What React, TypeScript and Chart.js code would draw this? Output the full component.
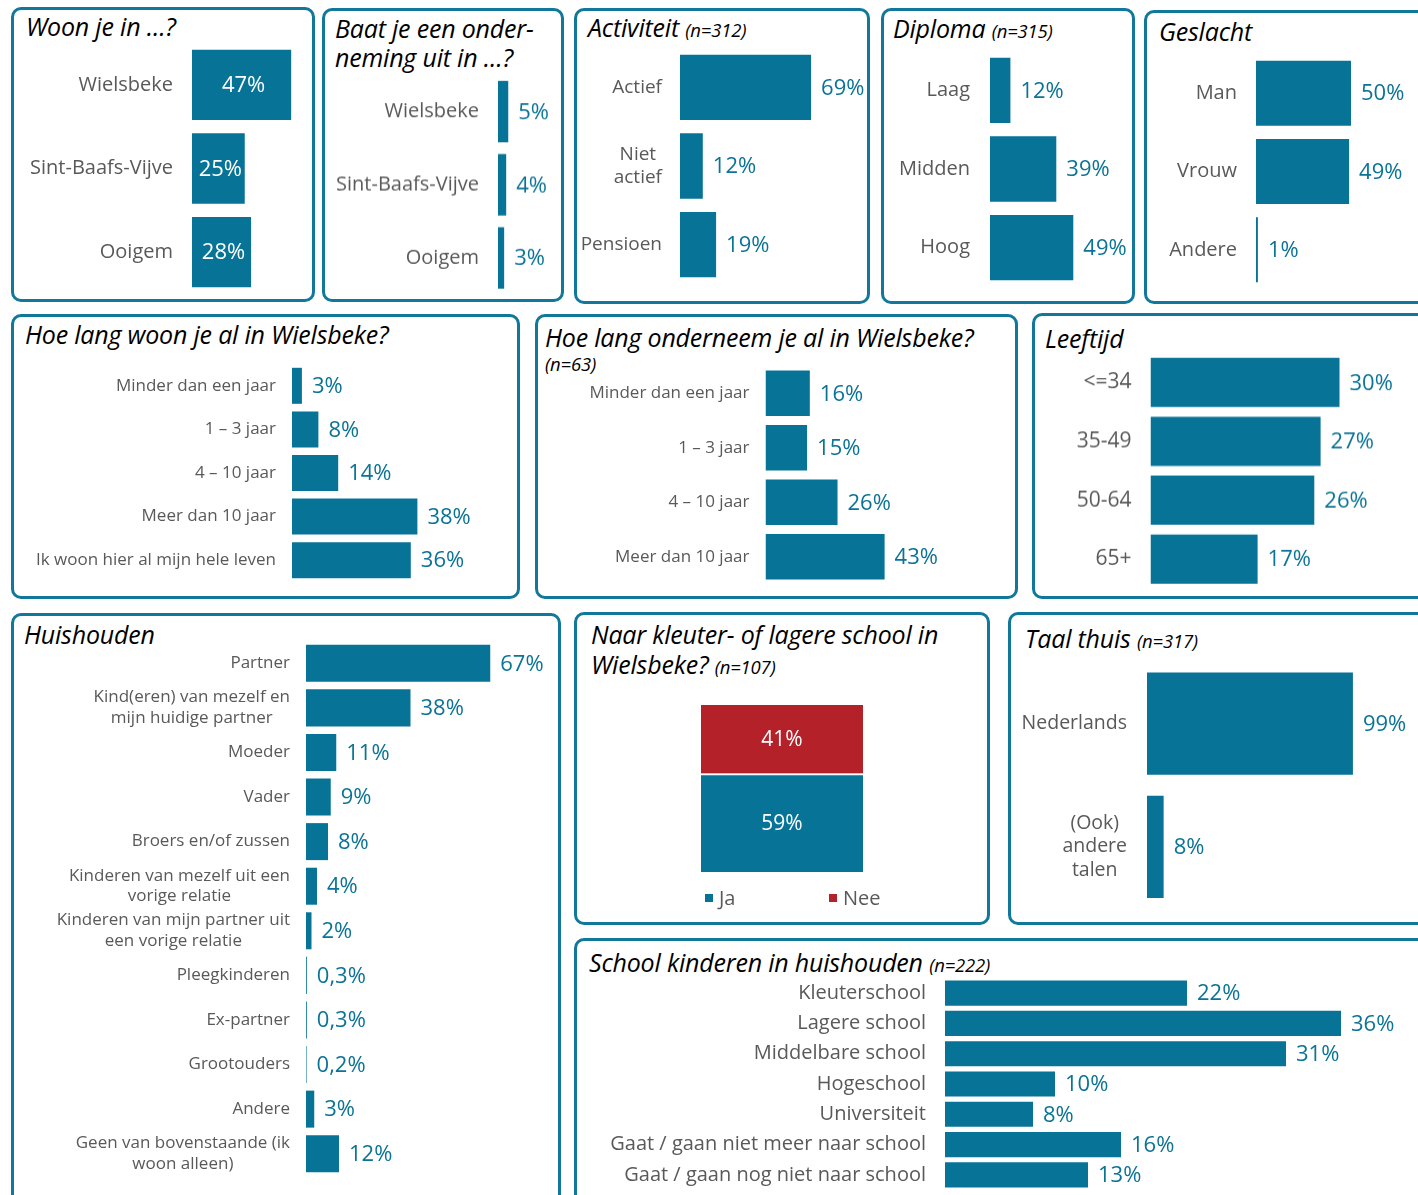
import React, { useEffect, useRef } from 'react';
import { Chart, registerables } from 'chart.js';
Chart.register(...registerables);

const FONT = '"Open Sans", Lato, sans-serif';
const BAR = '#077396';
const RED = '#b52129';
const LABEL = '#595959';
const VALUE = '#0a7396';
const BORDER = '#11789b';

// ---------- data ----------
const woonLabels = ['Wielsbeke', 'Sint-Baafs-Vijve', 'Ooigem'];
const woonValues = [47, 25, 28];
const baatLabels = ['Wielsbeke', 'Sint-Baafs-Vijve', 'Ooigem'];
const baatValues = [5, 4, 3];
const activiteitLabels = ['Actief', ['Niet', 'actief'], 'Pensioen'];
const activiteitValues = [69, 12, 19];
const diplomaLabels = ['Laag', 'Midden', 'Hoog'];
const diplomaValues = [12, 39, 49];
const geslachtLabels = ['Man', 'Vrouw', 'Andere'];
const geslachtValues = [50, 49, 1];
const woonduurLabels = ['Minder dan een jaar', '1 – 3 jaar', '4 – 10 jaar', 'Meer dan 10 jaar', 'Ik woon hier al mijn hele leven'];
const woonduurValues = [3, 8, 14, 38, 36];
const onderneemLabels = ['Minder dan een jaar', '1 – 3 jaar', '4 – 10 jaar', 'Meer dan 10 jaar'];
const onderneemValues = [16, 15, 26, 43];
const leeftijdLabels = ['<=34', '35-49', '50-64', '65+'];
const leeftijdValues = [30, 27, 26, 17];
const huishoudenLabels = [
  'Partner',
  ['Kind(eren) van mezelf en', 'mijn huidige partner'],
  'Moeder',
  'Vader',
  'Broers en/of zussen',
  ['Kinderen van mezelf uit een', 'vorige relatie'],
  ['Kinderen van mijn partner uit', 'een vorige relatie'],
  'Pleegkinderen',
  'Ex-partner',
  'Grootouders',
  'Andere',
  ['Geen van bovenstaande (ik', 'woon alleen)'],
];
const huishoudenValues = [67, 38, 11, 9, 8, 4, 2, 0.3, 0.3, 0.2, 3, 12];
const kleuterSeries = ['Ja', 'Nee'];
const kleuterJa = [59];
const kleuterNee = [41];
const taalLabels = ['Nederlands', ['(Ook)', 'andere', 'talen']];
const taalValues = [99, 8];
const schoolLabels = ['Kleuterschool', 'Lagere school', 'Middelbare school', 'Hogeschool', 'Universiteit', 'Gaat / gaan niet meer naar school', 'Gaat / gaan nog niet naar school'];
const schoolValues = [22, 36, 31, 10, 8, 16, 13];

const fmt = (v: number) => String(v).replace('.', ',') + '%';

type HBarProps = {
  left: number; right: number; top: number; bottom: number;
  barX0: number; pxPer: number; catPct: number;
  labels: (string | string[])[]; values: number[];
  labelSize: number; valueSize: number; gap: number; inside?: boolean;
};

function HBar(p: HBarProps) {
  const ref = useRef<HTMLCanvasElement>(null);
  useEffect(() => {
    const axisW = p.barX0 - p.left;
    const xMax = (p.right - p.barX0) / p.pxPer;
    const labelPlugin = {
      id: 'catLabels',
      afterDraw(chart: any) {
        const ctx = chart.ctx;
        const ys = chart.scales.y;
        ctx.save();
        ctx.font = `${p.labelSize}px ${FONT}`;
        ctx.fillStyle = LABEL;
        ctx.textBaseline = 'middle';
        ctx.textAlign = 'center';
        const right = chart.chartArea.left - p.gap;
        const lh = p.labelSize * 1.22;
        chart.data.labels.forEach((lab: any, i: number) => {
          const lines: string[] = Array.isArray(lab) ? lab : [lab];
          const w = Math.max(...lines.map((l) => ctx.measureText(l).width));
          const cx = right - w / 2;
          const cy = ys.getPixelForTick(i);
          lines.forEach((l, j) => ctx.fillText(l, cx, cy + (j - (lines.length - 1) / 2) * lh));
        });
        ctx.restore();
      },
    };
    const valuePlugin = {
      id: 'values',
      afterDatasetsDraw(chart: any) {
        const ctx = chart.ctx;
        const meta = chart.getDatasetMeta(0);
        ctx.save();
        ctx.font = `${p.valueSize}px ${FONT}`;
        ctx.textBaseline = 'middle';
        meta.data.forEach((bar: any, i: number) => {
          const txt = fmt(chart.data.datasets[0].data[i]);
          if (p.inside) {
            ctx.fillStyle = '#ffffff';
            ctx.textAlign = 'center';
            ctx.fillText(txt, (bar.x + bar.base) / 2 + 2, bar.y + 1);
          } else {
            ctx.fillStyle = VALUE;
            ctx.textAlign = 'left';
            ctx.fillText(txt, bar.x + 10, bar.y + 1);
          }
        });
        ctx.restore();
      },
    };
    const chart = new Chart(ref.current as HTMLCanvasElement, {
      type: 'bar',
      data: {
        labels: p.labels as any,
        datasets: [{ data: p.values, backgroundColor: BAR, borderWidth: 0, barPercentage: 1, categoryPercentage: p.catPct }],
      },
      options: {
        indexAxis: 'y',
        animation: false,
        responsive: true,
        maintainAspectRatio: false,
        events: [],
        layout: { padding: 0 },
        plugins: { legend: { display: false }, tooltip: { enabled: false } },
        scales: {
          x: { display: false, min: 0, max: xMax },
          y: {
            display: true,
            grid: { display: false, drawTicks: false },
            border: { display: false },
            ticks: { display: false },
            afterFit: (s: any) => { s.width = axisW; s.paddingTop = 0; s.paddingBottom = 0; },
          },
        },
      } as any,
      plugins: [labelPlugin, valuePlugin],
    });
    return () => chart.destroy();
  }, []);
  return (
    <div style={{ position: 'absolute', left: p.left, top: p.top, width: p.right - p.left, height: p.bottom - p.top }}>
      <canvas ref={ref} />
    </div>
  );
}

function StackedJaNee() {
  const ref = useRef<HTMLCanvasElement>(null);
  useEffect(() => {
    const inner = {
      id: 'inner',
      afterDatasetsDraw(chart: any) {
        const ctx = chart.ctx;
        ctx.save();
        ctx.font = `21px ${FONT}`;
        ctx.fillStyle = '#ffffff';
        ctx.textAlign = 'center';
        ctx.textBaseline = 'middle';
        chart.data.datasets.forEach((ds: any, di: number) => {
          chart.getDatasetMeta(di).data.forEach((bar: any, i: number) => {
            ctx.fillText(fmt(ds.data[i]), bar.x, (bar.y + bar.base) / 2 + 1);
          });
        });
        ctx.restore();
      },
    };
    const legendOffsets = [4, 128];
    const legend = {
      id: 'legendCustom',
      afterDraw(chart: any) {
        const ctx = chart.ctx;
        const a = chart.chartArea;
        ctx.save();
        ctx.font = `20px ${FONT}`;
        ctx.textBaseline = 'middle';
        ctx.textAlign = 'left';
        chart.data.datasets.forEach((ds: any, i: number) => {
          const x = a.left + legendOffsets[i];
          const y = a.bottom + 26;
          ctx.fillStyle = ds.backgroundColor;
          ctx.fillRect(x, y - 4, 8, 8);
          ctx.fillStyle = LABEL;
          ctx.fillText(ds.label, x + 14, y + 1);
        });
        ctx.restore();
      },
    };
    const chart = new Chart(ref.current as HTMLCanvasElement, {
      type: 'bar',
      data: {
        labels: [''],
        datasets: [
          { label: kleuterSeries[0], data: kleuterJa, backgroundColor: BAR, borderColor: '#ffffff', borderWidth: { top: 2, bottom: 0, left: 0, right: 0 }, borderSkipped: false, barPercentage: 1, categoryPercentage: 1 },
          { label: kleuterSeries[1], data: kleuterNee, backgroundColor: RED, borderWidth: 0, barPercentage: 1, categoryPercentage: 1 },
        ],
      },
      options: {
        animation: false,
        responsive: true,
        maintainAspectRatio: false,
        events: [],
        layout: { padding: { left: 101, right: 122, top: 5, bottom: 43 } },
        plugins: { legend: { display: false }, tooltip: { enabled: false } },
        scales: {
          x: { display: false, stacked: true },
          y: { display: false, stacked: true, min: 0, max: 100 },
        },
      } as any,
      plugins: [inner, legend],
    });
    return () => chart.destroy();
  }, []);
  return (
    <div style={{ position: 'absolute', left: 600, top: 700, width: 385, height: 215 }}>
      <canvas ref={ref} />
    </div>
  );
}

function Panel({ l, t, r, b }: { l: number; t: number; r: number; b: number }) {
  return (
    <div
      style={{
        position: 'absolute', left: l, top: t, width: r - l, height: b - t,
        border: `3px solid ${BORDER}`, borderRadius: 10, boxSizing: 'border-box', background: '#fff',
      }}
    />
  );
}

function Title({ x, y, children, lh = 29 }: { x: number; y: number; children: any; lh?: number }) {
  return (
    <div
      style={{
        position: 'absolute', left: x, top: y, fontFamily: FONT, fontStyle: 'italic', fontSize: 25,
        lineHeight: `${lh}px`, color: '#000', whiteSpace: 'nowrap', letterSpacing: '-0.2px',
      }}
    >
      {children}
    </div>
  );
}

const Small = ({ children }: { children: any }) => <span style={{ fontSize: 18.5 }}>{children}</span>;

export default function App() {
  useEffect(() => {
    document.body.style.margin = '0';
  }, []);
  return (
    <div style={{ position: 'absolute', left: 0, top: 0, width: 1418, height: 1195, overflow: 'hidden', background: '#fff' }}>
      <Panel l={11} t={7} r={315} b={302} />
      <Panel l={322} t={8} r={564} b={302} />
      <Panel l={574} t={8} r={870} b={304} />
      <Panel l={881} t={8} r={1135} b={304} />
      <Panel l={1144} t={10} r={1428} b={304} />
      <Panel l={11} t={314} r={520} b={599} />
      <Panel l={535} t={314} r={1018} b={599} />
      <Panel l={1032} t={313} r={1428} b={599} />
      <Panel l={11} t={613} r={561} b={1210} />
      <Panel l={574} t={612} r={990} b={925} />
      <Panel l={1008} t={612} r={1428} b={925} />
      <Panel l={574} t={938} r={1428} b={1210} />

      <Title x={26} y={12}>Woon je in …?</Title>
      <Title x={335} y={14}>Baat je een onder-<br />neming uit in …?</Title>
      <Title x={588} y={13}>Activiteit <Small>(n=312)</Small></Title>
      <Title x={893} y={14}>Diploma <Small>(n=315)</Small></Title>
      <Title x={1159} y={17}>Geslacht</Title>
      <Title x={25} y={320}>Hoe lang woon je al in Wielsbeke?</Title>
      <Title x={545} y={323}>Hoe lang onderneem je al in Wielsbeke?</Title>
      <Title x={545} y={349} lh={24}><Small>(n=63)</Small></Title>
      <Title x={1045} y={324}>Leeftijd</Title>
      <Title x={24} y={620}>Huishouden</Title>
      <Title x={591} y={619} lh={30}>Naar kleuter- of lagere school in<br />Wielsbeke? <Small>(n=107)</Small></Title>
      <Title x={1025} y={624}>Taal thuis <Small>(n=317)</Small></Title>
      <Title x={589} y={948}>School kinderen in huishouden <Small>(n=222)</Small></Title>

      <HBar left={16} right={312} top={43} bottom={294} barX0={192} pxPer={2.11} catPct={0.84}
        labels={woonLabels} values={woonValues} labelSize={20} valueSize={22} gap={19} inside />
      <HBar left={327} right={561} top={75} bottom={293.5} barX0={498} pxPer={2.05} catPct={0.84}
        labels={baatLabels} values={baatValues} labelSize={20} valueSize={22} gap={19} />
      <HBar left={577} right={868} top={48} bottom={284} barX0={680} pxPer={1.9} catPct={0.83}
        labels={activiteitLabels} values={activiteitValues} labelSize={19} valueSize={22} gap={18} />
      <HBar left={884} right={1133} top={51} bottom={287} barX0={990} pxPer={1.7} catPct={0.83}
        labels={diplomaLabels} values={diplomaValues} labelSize={20} valueSize={22} gap={20} />
      <HBar left={1148} right={1418} top={54} bottom={289} barX0={1256} pxPer={1.9} catPct={0.83}
        labels={geslachtLabels} values={geslachtValues} labelSize={20} valueSize={22} gap={19} />
      <HBar left={15} right={517} top={364} bottom={582} barX0={292} pxPer={3.3} catPct={0.826}
        labels={woonduurLabels} values={woonduurValues} labelSize={17} valueSize={22} gap={16} />
      <HBar left={540} right={1015} top={366} bottom={584} barX0={765.5} pxPer={2.77} catPct={0.835}
        labels={onderneemLabels} values={onderneemValues} labelSize={17} valueSize={22} gap={16} />
      <HBar left={1036} right={1418} top={353} bottom={587.5} barX0={1150.5} pxPer={6.3} catPct={0.835}
        labels={leeftijdLabels} values={leeftijdValues} labelSize={21} valueSize={22} gap={19} />
      <HBar left={15} right={558} top={641} bottom={1176} barX0={306} pxPer={2.75} catPct={0.83}
        labels={huishoudenLabels} values={huishoudenValues} labelSize={17} valueSize={22} gap={16} />
      <StackedJaNee />
      <HBar left={1012} right={1418} top={661.5} bottom={908} barX0={1147} pxPer={2.08} catPct={0.83}
        labels={taalLabels} values={taalValues} labelSize={19.5} valueSize={22} gap={20} />
      <HBar left={578} right={1418} top={978} bottom={1190} barX0={945} pxPer={11} catPct={0.83}
        labels={schoolLabels} values={schoolValues} labelSize={20} valueSize={22} gap={19} />
    </div>
  );
}
